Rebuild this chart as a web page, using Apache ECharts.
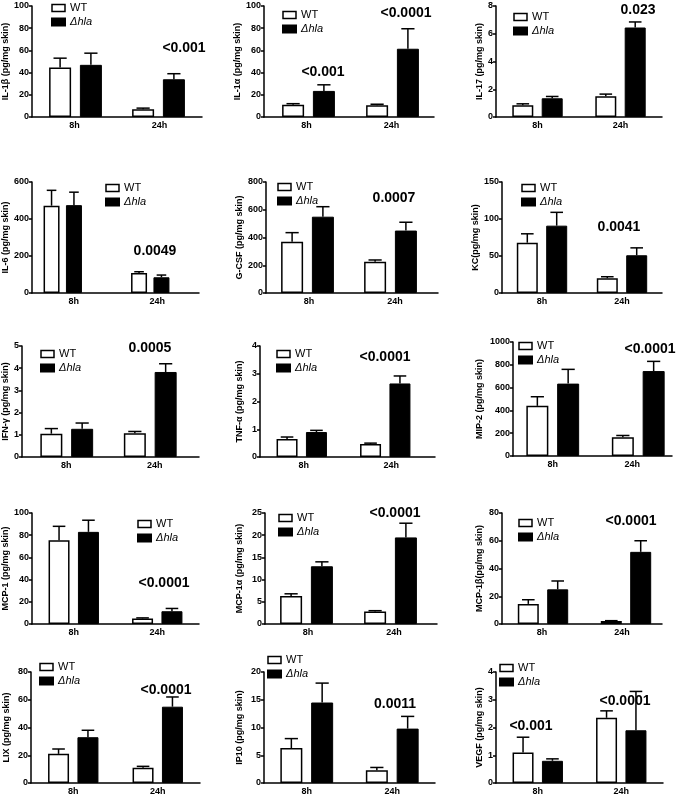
<!DOCTYPE html>
<html><head><meta charset="utf-8">
<script src="https://cdn.jsdelivr.net/npm/echarts@6/dist/echarts.min.js"></script>
<style>html,body{margin:0;padding:0;background:#fff}#c{width:686px;height:808px}</style>
</head><body><div id="c"></div>
<script>
// ---------- DATA ----------
const categories = ['8h', '24h'];
const seriesNames = ['WT', 'Δhla'];
const panelTitles = [
  'IL-1β (pg/mg skin)', 'IL-1α (pg/mg skin)', 'IL-17 (pg/mg skin)',
  'IL-6 (pg/mg skin)', 'G-CSF (pg/mg skin)', 'KC(pg/mg skin)',
  'IFN-γ (pg/mg skin)', 'TNF-α (pg/mg skin)', 'MIP-2 (pg/mg skin)',
  'MCP-1 (pg/mg skin)', 'MCP-1α (pg/mg skin)', 'MCP-1β(pg/mg skin)',
  'LIX (pg/mg skin)', 'IP10 (pg/mg skin)', 'VEGF (pg/mg skin)'
];
const yMax  = [100, 100, 8, 600, 800, 150, 5, 4, 1000, 100, 25, 80, 80, 20, 4];
const yStep = [20, 20, 2, 200, 200, 50, 1, 1, 200, 20, 5, 20, 20, 5, 1];
const wtMean = [[44.5,7],[11,10.5],[0.85,1.5],[472,108],[370,225],[68,20],[1.05,1.07],[0.65,0.47],[440,165],[75.5,5],[6.3,2.8],[14.5,2.2],[21,11],[6.3,2.3],[1.1,2.35]];
const wtErr  = [[8.5,1],[1,1],[0.1,0.15],[83,7],[65,13],[12,2],[0.23,0.08],[0.07,0.03],[80,15],[12.5,0.5],[0.5,0.2],[3,0.2],[3.5,1],[1.7,0.5],[0.55,0.25]];
const hlaMean = [[47,34],[23.5,61.5],[1.35,6.45],[475,85],[550,450],[91,51],[1.27,3.83],[0.9,2.65],[635,745],[83,11.5],[13,19.5],[25,52],[33,55],[14.5,9.8],[0.8,1.9]];
const hlaErr  = [[10.5,5],[5.5,18],[0.13,0.4],[70,12],[72,60],[18,10],[0.26,0.37],[0.06,0.27],[125,85],[10.5,2.5],[1,3.2],[6,8],[5,7],[3.5,2.2],[0.07,1.4]];
const pTexts = [['<0.001'],['<0.001','<0.0001'],['0.023'],['0.0049'],['0.0007'],['0.0041'],['0.0005'],['<0.0001'],['<0.0001'],['<0.0001'],['<0.0001'],['<0.0001'],['<0.0001'],['0.0011'],['<0.001','<0.0001']];

// ---------- LAYOUT ----------
const gridBox = [[31,6,202,117],[264,6,434,117],[496,6,662,117],
                 [32,182,199,293],[266,182,438,293],[502,182,662,293],
                 [21,346,199,457],[260,346,435,457],[513,342,672,456],
                 [32,513,199,624],[265,513,437,624],[502,513,662,624],
                 [31,672,200,783],[264,672,435,783],[496,672,663,783]];
// horizontal span used to place the bar groups (defaults to the axis span)
const barSpan = {0: [34, 200], 1: [266.5, 434.5], 3: [19, 194], 4: [266, 432],
                 6: [25, 192], 7: [260, 427], 8: [510, 681], 10: [264.5, 432.5], 11: [501.5, 667.5]};
const barPx = [22,22,21,16,22,21,22,21,22,21,22,21,21,22,21];
const titleX = [7, 240, 480];
const legendPos = [[51,8],[282,15],[513,17],[105,188],[277,187],[521,188],[40,354],[276,354],[518,346],[137,524],[278,518],[518,523],[39,667],[267,660],[499,668]];
const pPos = [[[184,48]],[[323,72],[406,13]],[[638,10]],[[155,251]],[[394,198]],[[619,227]],[[150,348]],[[385,357]],[[650,349]],[[164,583]],[[395,513]],[[631,521]],[[166,690]],[[395,704]],[[531,726],[625,701]]];

const FONT = '"Liberation Sans", Arial, sans-serif';
const chart = echarts.init(document.getElementById('c'), null, {renderer: 'canvas'});

function errRender(side, bw) {
  return function (params, api) {
    const c = api.value(0), m = api.value(1), e = api.value(2);
    const p0 = api.coord([c, m]);
    const p1 = api.coord([c, m + e]);
    const x = p0[0] + side * bw * 0.7;
    const hw = bw * 0.3;
    const st = {stroke: '#000', lineWidth: 1.5};
    return {type: 'group', children: [
      {type: 'line', shape: {x1: x, y1: p0[1], x2: x, y2: p1[1]}, style: st},
      {type: 'line', shape: {x1: x - hw, y1: p1[1], x2: x + hw, y2: p1[1]}, style: st}
    ]};
  };
}

const grids = [], xAxes = [], yAxes = [], series = [], legends = [], graphics = [];
panelTitles.forEach((t, i) => {
  const [l, tp, r, b] = gridBox[i];
  const axIdx = xAxes.length;
  grids.push({left: l, top: tp, width: r - l, height: b - tp});
  xAxes.push({
    type: 'category', gridIndex: grids.length - 1, data: categories,
    axisLine: {lineStyle: {color: '#000', width: 1.5}},
    axisTick: {show: false},
    axisLabel: {color: '#000', fontWeight: 'bold', fontSize: 9, fontFamily: FONT, margin: 4}
  });
  yAxes.push({
    type: 'value', gridIndex: grids.length - 1, min: 0, max: yMax[i], interval: yStep[i],
    name: t, nameLocation: 'middle', nameGap: l - titleX[i % 3] - 4.5,
    nameTextStyle: {color: '#000', fontWeight: 'bold', fontSize: 9, fontFamily: FONT},
    axisLine: {show: true, lineStyle: {color: '#000', width: 1.5}},
    axisTick: {show: true, length: 3, lineStyle: {color: '#000', width: 1.5}},
    splitLine: {show: false},
    axisLabel: {color: '#000', fontWeight: 'bold', fontSize: 9, fontFamily: FONT, margin: 3,
                formatter: v => String(v)}
  });
  let bIdx = axIdx;
  if (barSpan[i]) {
    const [bl, br] = barSpan[i];
    grids.push({left: bl, top: tp, width: br - bl, height: b - tp});
    xAxes.push({type: 'category', gridIndex: grids.length - 1, data: categories, show: false});
    yAxes.push({type: 'value', gridIndex: grids.length - 1, min: 0, max: yMax[i], show: false});
    bIdx = xAxes.length - 1;
  }
  const bw = barPx[i];
  series.push({
    type: 'bar', name: seriesNames[0], xAxisIndex: bIdx, yAxisIndex: bIdx,
    data: wtMean[i], barWidth: bw, barGap: '40%',
    itemStyle: {color: '#fff', borderColor: '#000', borderWidth: 1.5}, silent: true
  });
  series.push({
    type: 'bar', name: seriesNames[1], xAxisIndex: bIdx, yAxisIndex: bIdx,
    data: hlaMean[i], barWidth: bw, barGap: '40%',
    itemStyle: {color: '#000', borderColor: '#000', borderWidth: 1}, silent: true
  });
  series.push({
    type: 'custom', name: 'wt-err-' + i, xAxisIndex: bIdx, yAxisIndex: bIdx, z: 5,
    renderItem: errRender(-1, bw), encode: {x: 0, y: 1},
    data: categories.map((c, k) => [k, wtMean[i][k], wtErr[i][k]]), silent: true
  });
  series.push({
    type: 'custom', name: 'hla-err-' + i, xAxisIndex: bIdx, yAxisIndex: bIdx, z: 5,
    renderItem: errRender(1, bw), encode: {x: 0, y: 1},
    data: categories.map((c, k) => [k, hlaMean[i][k], hlaErr[i][k]]), silent: true
  });
  legends.push({
    orient: 'vertical', left: legendPos[i][0], top: legendPos[i][1] - 5.5,
    padding: 0, itemWidth: 13, itemHeight: 7, itemGap: 3, itemTextGap: 5,
    selectedMode: false, icon: 'rect',
    textStyle: {color: '#000', fontSize: 11, fontFamily: FONT},
    data: [
      {name: seriesNames[0], itemStyle: {color: '#fff', borderColor: '#000', borderWidth: 1.5}},
      {name: seriesNames[1], itemStyle: {color: '#000'}, textStyle: {fontStyle: 'italic'}}
    ]
  });
  pTexts[i].forEach((pt, k) => {
    graphics.push({
      type: 'text', x: pPos[i][k][0], y: pPos[i][k][1], silent: true,
      style: {text: pt, font: 'bold 14px ' + FONT, fill: '#000', align: 'center', verticalAlign: 'middle'}
    });
  });
});

chart.setOption({
  animation: false,
  backgroundColor: '#fff',
  grid: grids, xAxis: xAxes, yAxis: yAxes, series: series,
  legend: legends, graphic: graphics, tooltip: {show: false}
});
</script>
</body></html>
